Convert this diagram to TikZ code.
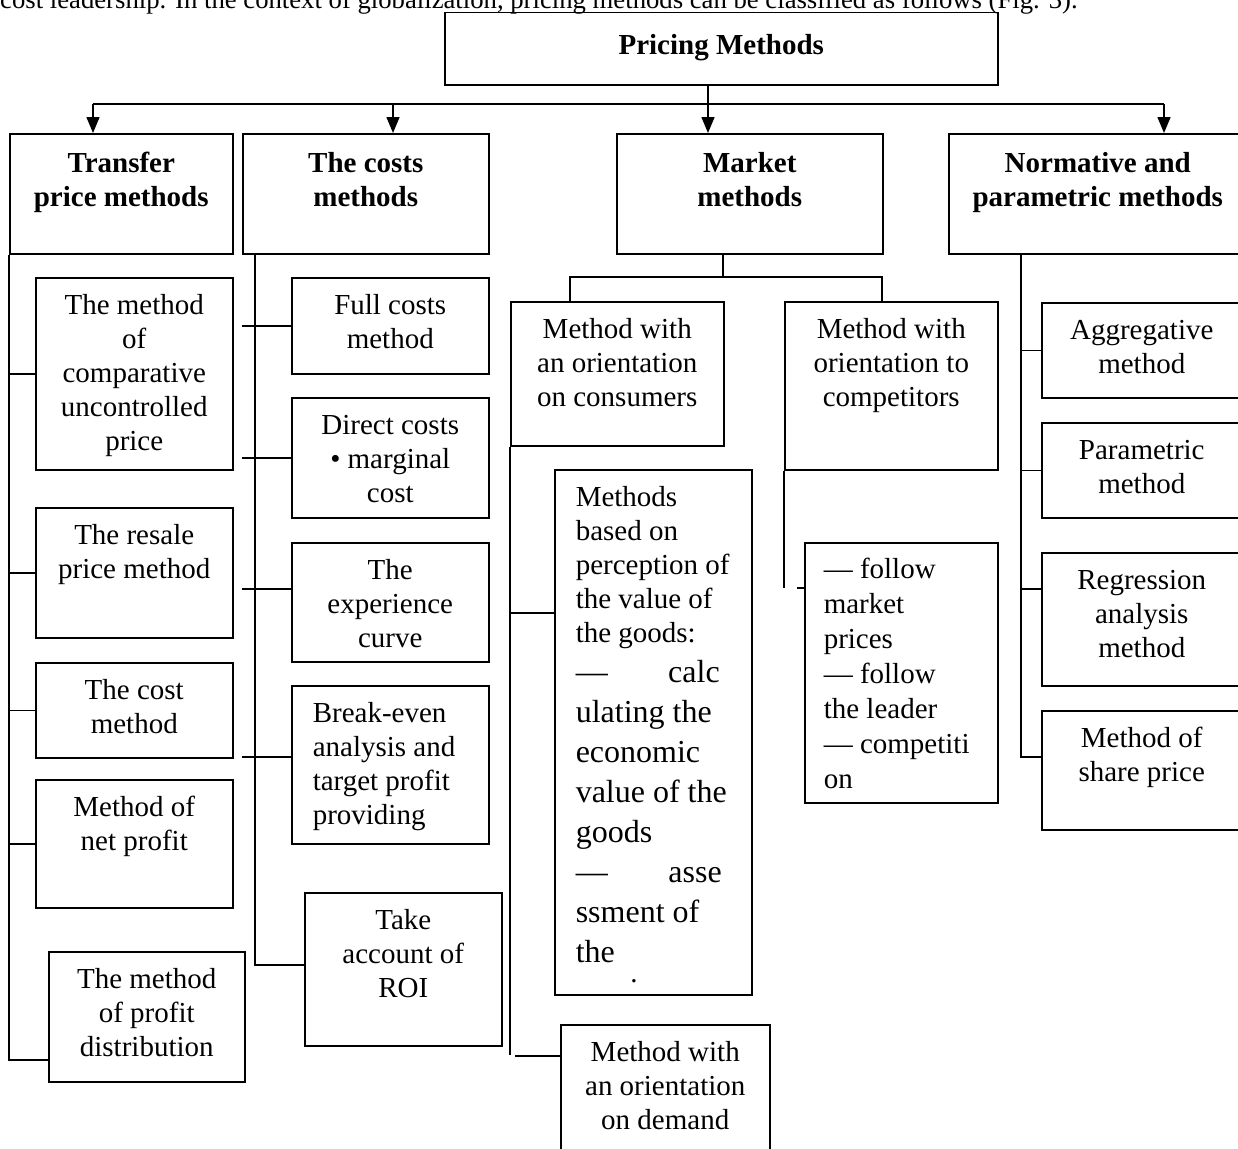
\documentclass[tikz,border=0pt]{standalone}
\usepackage{fontspec}
\setmainfont{Liberation Serif}
\usetikzlibrary{arrows.meta}
% centered text box: [pad]{height}{width}{text}
\newcommand\bxc[4][13pt]{\parbox[c][#2][t]{#3}{\vspace*{#1}\centering\strut #4\par}}
% left-aligned text box: [pad]{height}{width}{left margin}{text}
\newcommand\bxl[5][13pt]{\parbox[c][#2][t]{#3}{\vspace*{#1}\raggedright\leftskip=#4\relax\strut #5\par}}
\begin{document}
\begin{tikzpicture}[x=1pt,y=-1pt,
  every node/.style={font=\fontsize{29}{34}\selectfont, inner sep=0pt},
  bx/.style={draw, line width=1.5pt, anchor=north west},
  ln/.style={line width=1.5pt},
  arr/.style={line width=1.5pt, -{Triangle[width=13pt,length=16pt]}}]
\useasboundingbox (0,0) rectangle (1238,1148);
\fill[white] (0,0) rectangle (1238,1148);
\clip (0,0) rectangle (1238,1148);

% cut-off line of the running text
\node[anchor=base west, font=\fontsize{26.7}{32}\selectfont] (intro) at (0,9)
  {cost leadership. In the context of globalization, pricing methods can be classified as follows (Fig. 3).};

% root
\node[bx] (P) at (444,12) {\bxc[18pt]{72pt}{553pt}{\bfseries Pricing Methods}};

% level 1
\node[bx] (T) at (9,133)   {\bxc[15pt]{120pt}{223pt}{\bfseries Transfer\\price methods}};
\node[bx] (C) at (242,133) {\bxc[15pt]{120pt}{246pt}{\bfseries The costs\\methods}};
\node[bx] (M) at (616,133) {\bxc[15pt]{120pt}{266pt}{\bfseries Market\\methods}};
\node[bx] (N) at (948,133) {\bxc[15pt]{120pt}{298pt}{\bfseries Normative and\\parametric methods}};

% transfer price methods
\node[bx] (t1) at (35,277) {\bxc{192pt}{197pt}{The method\\of\\comparative\\uncontrolled\\price}};
\node[bx] (t2) at (35,507) {\bxc{130pt}{197pt}{The resale\\price method}};
\node[bx] (t3) at (35,662) {\bxc{95pt}{197pt}{The cost\\method}};
\node[bx] (t4) at (35,779) {\bxc{128pt}{197pt}{Method of\\net profit}};
\node[bx] (t5) at (48,951) {\bxc{130pt}{196pt}{The method\\of profit\\distribution}};

% costs methods
\node[bx] (c1) at (291,277) {\bxc{96pt}{197pt}{Full costs\\method}};
\node[bx] (c2) at (291,397) {\bxc{120pt}{197pt}{Direct costs\\• marginal\\cost}};
\node[bx] (c3) at (291,542) {\bxc{119pt}{197pt}{The\\experience\\curve}};
\node[bx] (c4) at (291,685) {\bxl{158pt}{197pt}{21pt}{Break-even\\analysis and\\target profit\\providing}};
\node[bx] (c5) at (304,892) {\bxc{153pt}{197pt}{Take\\account of\\ROI}};

% market methods
\node[bx] (m1) at (510,301) {\bxc{144pt}{213pt}{Method with\\an orientation\\on consumers}};
\node[bx] (m2) at (784,301) {\bxc{168pt}{213pt}{Method with\\orientation to\\competitors}};
\node[bx] (m3) at (554,469) {\parbox[c][525pt][t]{197pt}{\vspace*{13pt}\raggedright\leftskip=21pt\relax
  \strut Methods\\based on\\perception of\\the value of\\the goods:\par
  \fontsize{32}{40}\selectfont
  \makebox[144pt]{—\hfill calc}\\ulating the\\economic\\value of the\\goods\\\makebox[146pt]{—\hfill asse}\\ssment of\\the\par}};
\node[anchor=base] (m3dot) at (634,982) {.};
\node[bx] (m4) at (804,542) {\parbox[c][260pt][t]{193pt}{\fontsize{29}{35}\selectfont\vspace*{11.5pt}\raggedright\leftskip=19pt\relax
  \strut — follow\\market\\prices\\— follow\\the leader\\— competiti\\on\par}};
\node[bx] (m5) at (560,1024) {\bxc{150pt}{209pt}{Method with\\an orientation\\on demand}};

% normative and parametric methods
\node[bx] (n1) at (1041,302) {\bxc{95pt}{200pt}{Aggregative\\method}};
\node[bx] (n2) at (1041,422) {\bxc{95pt}{200pt}{Parametric\\method}};
\node[bx] (n3) at (1041,552) {\bxc{133pt}{200pt}{Regression\\analysis\\method}};
\node[bx] (n4) at (1041,710) {\bxc{119pt}{200pt}{Method of\\share price}};

% ---- connectors ----
\coordinate (b1) at (93,104);
\coordinate (b2) at (393,104);
\coordinate (b3) at (708,104);
\coordinate (b4) at (1164,104);
\draw[ln] (b3 |- P.south) -- (b3);
\draw[ln] (b1) -- (b4);
\draw[arr] (b1) -- (b1 |- T.north);
\draw[arr] (b2) -- (b2 |- C.north);
\draw[arr] (b3) -- (b3 |- M.north);
\draw[arr] (b4) -- (b4 |- N.north);

% transfer column
\coordinate (t5in) at (48,1060);
\draw[ln] (T.south west) |- (t5in);
\foreach \k in {t1,t2,t3,t4} {\draw[ln] (T.south west |- \k.west) -- (\k.west);}

% costs column
\coordinate (cT) at (255,253);
\coordinate (c3in) at (291,589);
\coordinate (c4in) at (291,757);
\coordinate (c5in) at (304,965);
\draw[ln] (cT) |- (c5in);
\draw[ln] (C.south west |- c1.west) -- (c1.west);
\draw[ln] (C.south west |- c2.west) -- (c2.west);
\draw[ln] (C.south west |- c3in) -- (c3in);
\draw[ln] (C.south west |- c4in) -- (c4in);

% market column
\coordinate (mJ) at (723,277);
\coordinate (mL) at (570,277);
\coordinate (mR) at (882,277);
\draw[ln] (mJ |- M.south) -- (mJ);
\draw[ln] (mL |- m1.north) |- (mR) -- (mR |- m2.north);
\coordinate (m1end) at (510,1055);
\coordinate (m3in) at (554,613);
\coordinate (m5tie) at (515,1056);
\coordinate (m5in) at (560,1056);
\draw[ln] (m1.south west) -- (m1end);
\draw[ln] (m1.south west |- m3in) -- (m3in);
\draw[ln] (m5tie) -- (m5in);
\coordinate (m2end) at (784,588);
\coordinate (m4tick) at (797,588);
\draw[ln] (m2.south west) -- (m2end);
\draw[ln] (m4tick) -- (m4tick -| m4.west);

% normative column
\coordinate (nT) at (1021,253);
\coordinate (n3in) at (1041,589);
\coordinate (n4in) at (1041,757);
\draw[ln] (nT) |- (n4in);
\draw[ln] (nT |- n1.west) -- (n1.west);
\draw[ln] (nT |- n2.west) -- (n2.west);
\draw[ln] (nT |- n3in) -- (n3in);
\end{tikzpicture}
\end{document}
